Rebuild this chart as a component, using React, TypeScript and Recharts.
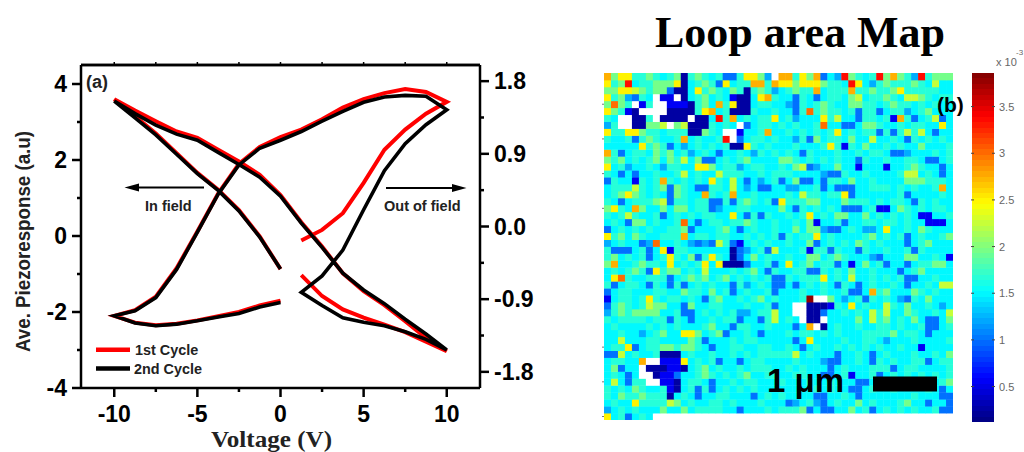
import { Bar, BarChart, ReferenceLine, Scatter, ScatterChart, XAxis, YAxis } from "recharts";

// left panel, voltage sweep
const leftSweep = [0, -1.25, -2.5, -3.75, -5, -6.25, -7.5, -8.75, -10];
const upSweep = [-10, -8.75, -7.5, -6.25, -5, -3.75, -2.5, -1.25, 0, 1.25, 2.5, 3.75, 5, 6.25, 7.5, 8.75, 10];
const backSweep = [10, 8.75, 7.5, 6.25, 5, 3.75, 2.5, 1.25];
const riseSweep = [1.25, 2.5, 3.75, 5, 6.25, 7.5, 8.75, 10];
const topSweep = [10, 8.75, 7.5, 6.25, 5, 3.75, 2.5, 1.25, 0, -1.25, -2.5, -3.75, -5, -6.25, -7.5, -8.75, -10];
const bottomSweep = [-8.75, -7.5, -6.25, -5, -3.75, -2.5, -1.25, 0];

const blackLeft = [-0.87, -0.03, 0.66, 1.2, 1.64, 2.15, 2.66, 3.11, 3.55];
const blackUp = [3.55, 3.22, 2.92, 2.68, 2.52, 2.2, 1.88, 1.55, 1.05, 0.34, -0.3, -0.98, -1.42, -1.78, -2.19, -2.58, -3.0];
const blackBack = [-3.0, -2.72, -2.52, -2.36, -2.27, -2.15, -1.83, -1.48];
const blackRise = [-1.48, -1.05, -0.37, 0.69, 1.72, 2.43, 2.93, 3.32];
const blackTop = [3.32, 3.68, 3.7, 3.66, 3.52, 3.28, 3.02, 2.75, 2.52, 2.31, 1.87, 1.1, 0.1, -0.88, -1.62, -1.97, -2.1];
const blackBottom = [-2.29, -2.36, -2.32, -2.23, -2.13, -2.04, -1.87, -1.75];

const redLeft = [-0.87, -0.01, 0.68, 1.22, 1.66, 2.18, 2.7, 3.15, 3.6];
const redUp = [3.6, 3.3, 3.02, 2.75, 2.58, 2.27, 1.96, 1.61, 1.08, 0.36, -0.28, -0.98, -1.45, -1.82, -2.24, -2.68, -3.03];
const redBack = [-3.03, -2.78, -2.53, -2.33, -2.15, -1.93, -1.58, -1.03];
const redRise = [-0.12, 0.16, 0.6, 1.4, 2.27, 2.8, 3.22, 3.53];
const redTop = [3.53, 3.79, 3.87, 3.76, 3.6, 3.38, 3.07, 2.8, 2.6, 2.34, 1.9, 1.12, 0.12, -0.85, -1.6, -1.95, -2.1];
const redBottom = [-2.28, -2.35, -2.31, -2.22, -2.11, -2.0, -1.83, -1.7];

const xTicks = [-10, -7.5, -5, -2.5, 0, 2.5, 5, 7.5, 10];
const yTicks = [-4, -3, -2, -1, 0, 1, 2, 3, 4];
const rightTicks = [-1.8, -1.35, -0.9, -0.45, 0, 0.45, 0.9, 1.35, 1.8];
const rightLabels = ["-1.8", "", "-0.9", "", "0.0", "", "0.9", "", "1.8"];

// right panel, one letter per cell, 0 means no data (white)
const levels: Record<string, number | null> = {
  "0": null, a: 0.25, b: 0.55, c: 1.0, d: 1.22, e: 1.5, f: 1.66, g: 1.95, h: 2.25, i: 2.5, j: 2.75, k: 3.0, l: 3.35, m: 3.8
};
const mapRows = [
  "jgiiffgfef gafgfefccf iigd0jjfig jcedlgfefl gjgfdlfggg",
  "ifgleffggg iaefgfcief fjjfjiigii igffeliedf gfffgfehee",
  "ggiihgfggc aaeifgfegf afgfdefgff jefffjffgf fgifffffee",
  "ifgdcfe0bb 0aefgefeba aeijfeecfe ceffegheff gfehhgfeff",
  "gkgf0bf00b bbafgejfia aeffeedcfe fgfeeggffe fgffefefee",
  "igfba0000a aaafijefaa afeefeecfk fgffefcffc effdefgeee",
  "fe00aaf0aa aa0aaelfje feffiefdee eifheecffe fbjfcefhce",
  "df00aaggh0 ghaaafefe0 ceffefefee fkeecceggf eefeffeeie",
  "iffiigffef ffaagfe00b eefjeefefe fefiefeffc fcfhfhecee",
  "feefcfgfee fjefeefl0c effefeedfc geffegeehe efecfefefe",
  "eeeeeifgfc edefefefaa ifefeeefee efifbfegee fefeegeeef",
  "jfceffegfg efdefeceef edfefefecf eeefeefeff eccdeeefef",
  "gfgefefgeg fhegccefef geeeeggfef efefeecfee feeffeccef",
  "iefdeefedf feeiigeffd effeefeghc deegeebeee beefgfeece",
  "fececeefee fhefeehfff eefefffeee edccfeefee eefhhefece",
  "cfeebfefjf efefeifehe cedefcegcc ecffegeefe eeegggfffe",
  "efffhfefgc gfeccffehe deccеeddee fceccceeff fefefeefje".replace(/е/g, "e"),
  "efgigfefec gfeejfefje efeeeefehf fefficeeee eefceeeefe",
  "fecefffghc ffeffccfcf gfefcifffg geeegfffef effecfefee",
  "gifejgeege ggeffcdeef feeeegecfe fefecccefb begfefeffe",
  "fefhfeefce fefeffeeie cfcfeefefi efeggeegef efefebbeef",
  "efecggefee fkeceffeff gfeefeefeg beefceeffe ffefeebbbe",
  "cefefefeef fgceeefgec efeefeegeg gdccefedde ieefegfeee",
  "ifgegfeeff fjeffeffee fefefcfeff iefeeeefge fefcefeefg",
  "defeecdkee fedcdchfcb efefeefeeg cefefegfef eeecefgeee",
  "fcccefceib ffeeeeeeac defcheeefb ffcfeecfee feefcfeeee",
  "fgefefcefi fegcfifeac egefeefeeg gefgfeeedc eeeggeefeb",
  "gjeefgffei efefieiaaa ceefceiefg effcebegef ceeceffgge",
  "efefgfcifg gefeheeefe fgecfeeffc cfefegeefe eecefgeeee",
  "eikfeefffc efgfgefgef efefccfeff fiefeheefe fefcceefee",
  "fceffecfec fcefefeecf defeccecef efecfecefe efeceefehh",
  "ceffeeeffe egffegefce feefceeefe efeefccejf geeegfefee",
  "beffefifef fefecfgeef efgefeeefm 00gedefcfe fedcfegeee",
  "cfgfefhgge ecgeeffeee feefcee00a aabfeiefee hfegeefede",
  "dfgfggggee fccefefefd deffhee00a aceefefehf heegfeefeh",
  "feffffeffc feceefeffc eecfhefe0a a0eeeegehf gefegecceg",
  "efeeeefefe feeefgeecf feefeeecej 0aefeefeef fefeefccef",
  "eefeedefge eiigefgcee feceeefeff efefeeefff fgeffeceee",
  "eeheeeffee eegfceeefe ffeeeeecei eeeefeeffe deeefeeeef",
  "efficeffgg fggfeceeff eeffeefece feefefefef eefeebeeee",
  "cchefeefaa aefeefeefe fefffffhef eeeceefece feeefeefeg",
  "effeej00bb biefefceec effeeeefee edcceefecf efeeffceff",
  "egcee0aaab baefgefeef efffeefefe eecefeeeff fceffeeeef",
  "efece00abb ceefgfefef geeffeeffe eccefbeefc efefefefef",
  "ehecff00bb aeffeceefe ffeeefeeef eefeeeccee eeeeeffefg",
  "fefegfeefb aefcfcefef efeeeeeeee fefeeccefe efeeeefece",
  "fegffgfffa efeceeffee ecefefeeee cceefeceee eeeefeeecc",
  "efeeiffffh gefeeffefe eefeeecdef dcefeegefe eefgeeceec",
  "defefeeege egeffffeec eeefefffgc ecceegefce fefefeefcc",
  "iefcefe000 0000000000 0000000000 0000000000 0000000000"
];
const rowCount = 50;
const colCount = 50;
const yTickMarks = [45.5, 40.5, 35.5, 30.5, 10.5, 5.5, 0.5];
const barTicks = [0.5, 1, 1.5, 2, 2.5, 3, 3.5];
const barDomain = [0.12, 3.86];
const barSteps = 64;

function jet(value: number) {
  const t = (value - barDomain[0]) / (barDomain[1] - barDomain[0]);
  const ch = (c: number) => Math.round(255 * Math.max(0, Math.min(1, 1.5 - Math.abs(4 * t - c))));
  return `rgb(${ch(3)},${ch(2)},${ch(1)})`;
}

const cellValues = mapRows.map((row) => {
  const clean = row.replace(/\s/g, "");
  return Array.from({ length: colCount }, (_, i) => {
    const v = levels[clean[i]];
    return v === undefined ? levels.e : v;
  });
});

const zip = (xs: number[], ys: number[]) => xs.map((x, i) => ({ x, y: ys[i] }));

const blackLine = [
  ...zip(leftSweep, blackLeft),
  ...zip(upSweep.slice(1), blackUp.slice(1)),
  ...zip(backSweep.slice(1), blackBack.slice(1)),
  ...zip(riseSweep.slice(1), blackRise.slice(1)),
  ...zip(topSweep.slice(1), blackTop.slice(1)),
  ...zip(bottomSweep, blackBottom)
];
const redFirst = [
  ...zip(leftSweep, redLeft),
  ...zip(upSweep.slice(1), redUp.slice(1)),
  ...zip(backSweep.slice(1), redBack.slice(1))
];
const redSecond = [
  ...zip(riseSweep, redRise),
  ...zip(topSweep.slice(1), redTop.slice(1)),
  ...zip(bottomSweep, redBottom)
];

const heatData = Array.from({ length: colCount }, (_, c) => {
  const item: Record<string, number> = { col: c };
  for (let r = 0; r < rowCount; r++) item[`r${r}`] = 1;
  return item;
});
const barData = [
  Object.fromEntries(Array.from({ length: barSteps }, (_, i) => [`s${i}`, 1]))
];

const sans = "'Liberation Sans', Arial, sans-serif";
const serif = "'Liberation Serif', 'Times New Roman', serif";

function LeftTick({ x, y, payload }: any) {
  const major = Math.abs(payload.value) % 2 === 0;
  return (
    <g>
      <line x1={x} x2={x - (major ? 9 : 4)} y1={y} y2={y} stroke="#000" strokeWidth={2.5} />
      {major && (
        <text x={x - 14} y={y + 8} textAnchor="end" fontFamily={sans} fontWeight="bold" fontSize={23} fill="#000">
          {payload.value}
        </text>
      )}
    </g>
  );
}

function RightTick({ x, y, payload }: any) {
  const label = rightLabels[rightTicks.indexOf(payload.value)];
  return (
    <g>
      <line x1={x} x2={x + (label ? 9 : 4)} y1={y} y2={y} stroke="#000" strokeWidth={2.5} />
      {label && (
        <text x={x + 14} y={y + 8} fontFamily={sans} fontWeight="bold" fontSize={23} fill="#000">
          {label}
        </text>
      )}
    </g>
  );
}

function BottomTick({ x, y, payload }: any) {
  const major = Number.isInteger(payload.value / 5);
  return (
    <g>
      <line x1={x} x2={x} y1={y} y2={y + (major ? 9 : 4)} stroke="#000" strokeWidth={2.5} />
      {major && (
        <text x={x} y={y + 34} textAnchor="middle" fontFamily={sans} fontWeight="bold" fontSize={23} fill="#000">
          {payload.value}
        </text>
      )}
    </g>
  );
}

function TopTick({ x, y }: any) {
  return <line x1={x} x2={x} y1={y} y2={y - 3} stroke="#000" strokeWidth={1.5} />;
}

function ColorTick({ x, y, payload }: any) {
  return (
    <g>
      <line x1={x - 24} x2={x - 21} y1={y} y2={y} stroke="#444" />
      <line x1={x - 3} x2={x} y1={y} y2={y} stroke="#444" />
      <text x={x + 4} y={y + 4} fontFamily={sans} fontSize={11} fill="#666">
        {payload.value}
      </text>
    </g>
  );
}

function MapTick({ x, y }: any) {
  return <line x1={x} x2={x - 2} y1={y} y2={y} stroke="#777" />;
}

function HysteresisPanel() {
  return (
    <ScatterChart width={570} height={452} margin={{ top: 64, right: 0, bottom: 0, left: 0 }}>
      <XAxis
        xAxisId="bottom"
        type="number"
        dataKey="x"
        domain={[-12, 12]}
        ticks={xTicks}
        interval={0}
        height={64}
        tickSize={0}
        tickMargin={0}
        tickLine={false}
        axisLine={{ stroke: "#000", strokeWidth: 2.5 }}
        tick={BottomTick}
      />
      <XAxis
        xAxisId="top"
        type="number"
        dataKey="x"
        orientation="top"
        domain={[-12, 12]}
        ticks={xTicks}
        interval={0}
        height={1}
        tickSize={0}
        tickMargin={0}
        tickLine={false}
        axisLine={{ stroke: "#000", strokeWidth: 2.5 }}
        tick={TopTick}
      />
      <YAxis
        yAxisId="left"
        type="number"
        dataKey="y"
        domain={[-4, 4.5]}
        ticks={yTicks}
        interval={0}
        width={81}
        tickSize={0}
        tickMargin={0}
        tickLine={false}
        axisLine={{ stroke: "#000", strokeWidth: 2.5 }}
        tick={LeftTick}
      />
      <YAxis
        yAxisId="right"
        type="number"
        dataKey="y"
        orientation="right"
        domain={[-2, 2]}
        ticks={rightTicks}
        interval={0}
        width={90}
        tickSize={0}
        tickMargin={0}
        tickLine={false}
        axisLine={{ stroke: "#000", strokeWidth: 2.5 }}
        tick={RightTick}
      />
      <ReferenceLine xAxisId="bottom" yAxisId="left" y={4.5} stroke="#000" strokeWidth={2.5} />
      {/* empty marks so the top and right axes get their ticks */}
      <Scatter xAxisId="top" yAxisId="right" data={[{ x: 0, y: 0 }]} shape={() => null} isAnimationActive={false} />
      <Scatter
        xAxisId="bottom"
        yAxisId="left"
        data={redFirst}
        line={{ stroke: "#ff0000", strokeWidth: 4 }}
        shape={() => null}
        isAnimationActive={false}
      />
      <Scatter
        xAxisId="bottom"
        yAxisId="left"
        data={redSecond}
        line={{ stroke: "#ff0000", strokeWidth: 4 }}
        shape={() => null}
        isAnimationActive={false}
      />
      <Scatter
        xAxisId="bottom"
        yAxisId="left"
        data={blackLine}
        line={{ stroke: "#000", strokeWidth: 3.6 }}
        shape={() => null}
        isAnimationActive={false}
      />
    </ScatterChart>
  );
}

function LoopAreaMap() {
  const bars = [];
  const cellWidth = 349 / colCount;
  for (let r = rowCount - 1; r >= 0; r--) {
    bars.push(
      <Bar
        key={r}
        yAxisId="rows"
        dataKey={`r${r}`}
        stackId="map"
        isAnimationActive={false}
        shape={(p: any) => {
          const v = cellValues[r]?.[p.index];
          return (
            <rect
              x={p.x + p.width / 2 - cellWidth / 2}
              y={p.y}
              width={cellWidth + 0.4}
              height={p.height + 0.4}
              fill={v === null ? "#fff" : jet(v ?? 1.5)}
            />
          );
        }}
      />
    );
  }
  return (
    <BarChart
      width={355}
      height={347}
      data={heatData}
      barCategoryGap={0}
      barGap={0}
      margin={{ top: 0, right: 0, bottom: 0, left: 0 }}
    >
      <XAxis dataKey="col" hide />
      <YAxis
        yAxisId="rows"
        type="number"
        domain={[0, rowCount]}
        ticks={yTickMarks}
        interval={0}
        width={6}
        axisLine={false}
        tickSize={0}
        tickMargin={0}
        tickLine={false}
        tick={MapTick}
      />
      {bars}
    </BarChart>
  );
}

function ColorBar() {
  const bars = [];
  for (let i = 0; i < barSteps; i++) {
    const v = barDomain[0] + ((i + 0.5) / barSteps) * (barDomain[1] - barDomain[0]);
    bars.push(
      <Bar key={i} dataKey={`s${i}`} stackId="bar" barSize={24} fill={jet(v)} isAnimationActive={false} />
    );
  }
  return (
    <BarChart width={24} height={349} data={barData} barCategoryGap={0} margin={{ top: 0, right: 0, bottom: 0, left: 0 }}>
      <XAxis hide />
      <YAxis hide type="number" domain={[0, barSteps]} />
      {bars}
    </BarChart>
  );
}

// scale of the colour bar sits in its own chart on top of the bar
function ColorScale() {
  return (
    <ScatterChart width={53} height={349} margin={{ top: 0, right: 0, bottom: 0, left: 0 }}>
      <XAxis type="number" dataKey="x" hide domain={[0, 1]} />
      <YAxis
        type="number"
        dataKey="y"
        orientation="right"
        domain={barDomain}
        ticks={barTicks}
        interval={0}
        width={29}
        axisLine={false}
        tickSize={0}
        tickMargin={0}
        tickLine={false}
        tick={ColorTick}
      />
      <Scatter data={[{ x: 0, y: 2 }]} shape={() => null} isAnimationActive={false} />
    </ScatterChart>
  );
}

export default function App() {
  const place = (left: number, top: number, blur = 0): React.CSSProperties => ({
    position: "absolute",
    left,
    top,
    filter: blur ? `blur(${blur}px)` : undefined
  });
  return (
    <div style={{ position: "absolute", left: 0, top: 0, width: 1024, height: 452, overflow: "hidden", background: "#fff" }}>
      <style>{`.crisp .recharts-rectangle{shape-rendering:crispEdges}`}</style>
      <div style={place(0, 0)}>
        <HysteresisPanel />
      </div>
      <div className="crisp" style={place(598, 73, 0.7)}>
        <LoopAreaMap />
      </div>
      <div className="crisp" style={place(971, 73, 0.4)}>
        <ColorBar />
      </div>
      <div style={place(971, 73)}>
        <ColorScale />
      </div>
      <svg width={1024} height={452} style={{ position: "absolute", left: 0, top: 0, pointerEvents: "none" }}>
        <text x={655} y={47} fontFamily={serif} fontWeight="bold" fontSize={44} fill="#000">
          Loop area Map
        </text>
        <text x={211} y={447} fontFamily={serif} fontWeight="bold" fontSize={23} textLength={121} lengthAdjust="spacingAndGlyphs" fill="#222">
          Voltage (V)
        </text>
        <text
          transform="translate(30,241.5) rotate(-90)"
          textAnchor="middle"
          fontFamily={sans}
          fontWeight="bold"
          fontSize={20}
          textLength={221}
          lengthAdjust="spacingAndGlyphs"
          fill="#222"
        >
          Ave. Piezoresponse (a.u)
        </text>
        <text x={86} y={88} fontFamily={sans} fontWeight="bold" fontSize={18} fill="#222">
          (a)
        </text>
        <line x1={204} x2={136} y1={187.5} y2={187.5} stroke="#000" strokeWidth={1.8} />
        <polygon points="124.5,187.5 139,183.5 139,191.5" fill="#000" />
        <text x={145} y={211} fontFamily={sans} fontWeight="bold" fontSize={14.5} fill="#222">
          In field
        </text>
        <line x1={386} x2={455} y1={188} y2={188} stroke="#000" strokeWidth={1.8} />
        <polygon points="466.5,188 452,184 452,192" fill="#000" />
        <text x={384} y={211} fontFamily={sans} fontWeight="bold" fontSize={14.5} fill="#222">
          Out of field
        </text>
        <line x1={96} x2={130} y1={349.7} y2={349.7} stroke="#ff0000" strokeWidth={4.5} />
        <text x={135} y={355} fontFamily={sans} fontWeight="bold" fontSize={14.4} fill="#222">
          1st Cycle
        </text>
        <line x1={96} x2={130} y1={368.5} y2={368.5} stroke="#000" strokeWidth={4.5} />
        <text x={134} y={374} fontFamily={sans} fontWeight="bold" fontSize={14.4} fill="#222">
          2nd Cycle
        </text>
        <text x={937} y={112} fontFamily={sans} fontWeight="bold" fontSize={21} fill="#000">
          (b)
        </text>
        <text x={767} y={392} fontFamily={sans} fontWeight="bold" fontSize={33} fill="#000">
          1 μm
        </text>
        <rect x={873} y={376.5} width={64} height={15} fill="#000" />
        <text x={996} y={66} fontFamily={sans} fontSize={11} fill="#666">
          x 10
        </text>
        <text x={1016} y={55} fontFamily={sans} fontSize={8} fill="#666">
          -3
        </text>
      </svg>
    </div>
  );
}
